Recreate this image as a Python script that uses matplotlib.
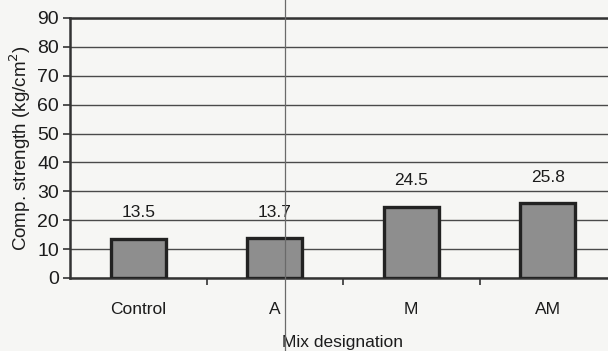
import matplotlib
matplotlib.use("Agg")
import matplotlib.pyplot as plt
from matplotlib.lines import Line2D
from matplotlib.ticker import FixedLocator

plt.rcParams['font.family'] = ['Liberation Sans', 'DejaVu Sans']

mixes = ["Control", "A", "M", "AM"]
strength = [13.5, 13.7, 24.5, 25.8]
y_ticks = [0, 10, 20, 30, 40, 50, 60, 70, 80, 90]

bg = "#f6f6f4"
ink = "#1c1c1c"
fig = plt.figure(figsize=(6.08, 3.51), dpi=100, facecolor=bg)
ax = fig.add_axes([70 / 608, 73 / 351, 546 / 608, 260 / 351], facecolor=bg)

x = range(len(mixes))
ax.bar(x, strength, width=0.4, color="#8e8e8e", edgecolor="#222222",
       linewidth=2.4, zorder=3)

for xi, v in zip(x, strength):
    ax.annotate(f"{v}", (xi, v), xytext=(0, 19), textcoords="offset points",
                ha="center", va="center", fontsize=12.5, color=ink)

ax.set_xlim(-0.5, len(mixes) - 0.5)
ax.set_ylim(0, 90)
ax.set_yticks(y_ticks)
ax.yaxis.grid(True, color="#4a4a4a", linewidth=1.0, zorder=0)
ax.set_axisbelow(True)

ax.set_xticks(list(x))
ax.set_xticklabels(mixes)
ax.xaxis.set_minor_locator(FixedLocator([i + 0.5 for i in range(len(mixes))]))
ax.tick_params(axis="x", which="major", length=0, pad=17, labelsize=12.5,
               labelcolor=ink)
ax.tick_params(axis="x", which="minor", length=5, width=1.2, color="#333333")
ax.tick_params(axis="y", length=5, width=1.2, color="#333333", pad=3,
               labelsize=14, labelcolor=ink)

for side in ("left", "bottom", "top"):
    ax.spines[side].set_color("#333333")
    ax.spines[side].set_linewidth(1.8)
ax.spines["right"].set_visible(False)

ax.set_xlabel("Mix designation", fontsize=12.5, color=ink, labelpad=13)
ax.set_ylabel("Comp. strength (kg/cm$^2$)", fontsize=13.5, color=ink,
              labelpad=3)

# thin vertical rule running through the page
fig.add_artist(Line2D([285 / 608, 285 / 608], [0, 1], transform=fig.transFigure,
                      color="#6a6a6a", linewidth=0.9, zorder=10))

fig.savefig("out.png", dpi=100, facecolor=bg)
